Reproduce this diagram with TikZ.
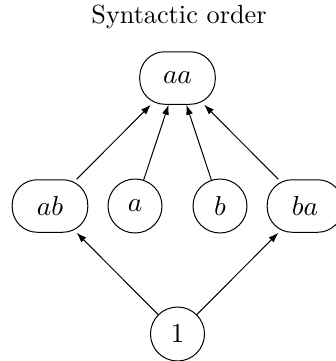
\documentclass[tikz,border=0pt]{standalone}
\usetikzlibrary{arrows.meta}
\begin{document}
\begin{tikzpicture}[x=0.4pt,y=-0.4pt,font=\fontsize{10.5}{12.6}\selectfont,
  wordbox/.style={draw,rounded corners=10pt,minimum width=30.2pt,minimum height=21pt,inner sep=0pt},
  letterbox/.style={draw,circle,minimum size=21.6pt,inner sep=0pt},
  conn/.style={-{Latex[length=4pt,width=2.8pt]}}]
\useasboundingbox (0,0) rectangle (335,361);
\node (title) at (179,17) {Syntactic order};
\node[wordbox] (aa) at (177.5,78) {$aa$};
\node[wordbox] (ab) at (50,206) {$ab$};
\node[letterbox] (a) at (135,206) {$a$};
\node[letterbox] (b) at (220,206) {$b$};
\node[wordbox] (ba) at (305,206) {$ba$};
\node[letterbox] (one) at (177.5,334) {$1$};
\draw[conn] (ab) -- (aa);
\draw[conn] (a) -- (aa);
\draw[conn] (b) -- (aa);
\draw[conn] (ba) -- (aa);
\draw[conn] (one) -- (ab);
\draw[conn] (one) -- (ba);
\end{tikzpicture}
\end{document}
